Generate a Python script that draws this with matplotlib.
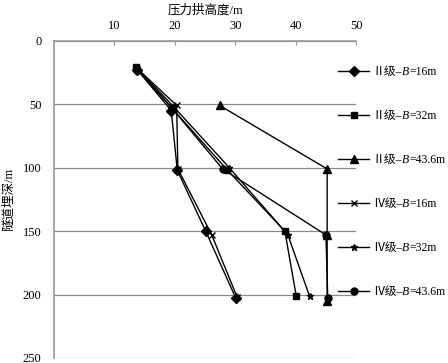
import matplotlib
matplotlib.use("Agg")
import matplotlib.pyplot as plt
from matplotlib.text import Annotation

plt.rcParams['font.family'] = ['Liberation Serif', 'Noto Sans CJK SC', 'DejaVu Sans']

grades = ["Ⅱ级–", "Ⅱ级–", "Ⅱ级–", "Ⅳ级–", "Ⅳ级–", "Ⅳ级–"]
widths = ["=16m", "=32m", "=43.6m", "=16m", "=32m", "=43.6m"]

ii16_x = [13.8, 19.4, 20.4, 25.1, 30.1]
ii16_y = [23, 55, 102, 150, 203]
ii32_x = [13.5, 19.5, 28.7, 38.2, 40.1]
ii32_y = [20.5, 53, 102, 150, 201.5]
ii436_x = [27.4, 45.2, 45.2, 45.2]
ii436_y = [51, 101, 153, 205]
iv16_x = [13.8, 20.3, 20.5, 26.1, 30.3]
iv16_y = [22, 51, 101, 153, 202]
iv32_x = [13.6, 19.8, 29.0, 38.7, 42.3]
iv32_y = [21, 52, 100, 153, 201.5]
iv436_x = [13.8, 19.5, 27.9, 45.0, 45.3]
iv436_y = [23, 53, 101, 153, 203]

x_ticks = [10, 20, 30, 40, 50]
y_ticks = [0, 50, 100, 150, 200, 250]

series = [(ii16_x, ii16_y, 'D', 5), (ii32_x, ii32_y, 's', 5), (ii436_x, ii436_y, '^', 6),
          (iv16_x, iv16_y, 'x', 4), (iv32_x, iv32_y, '*', 5), (iv436_x, iv436_y, 'o', 5)]

fig = plt.figure(figsize=(4.48, 3.63), dpi=100)
ax = fig.add_axes([0.1205, 0.0138, 0.6745, 0.874])

handles = []
for (xs, ys, m, ms) in series:
    h, = ax.plot(xs, ys, color='black', lw=1.0, marker=m, markersize=ms,
                 markeredgewidth=1.0)
    handles.append(h)

ax.set_xlim(0, 50)
ax.set_ylim(250, 0)
ax.xaxis.tick_top()
ax.xaxis.set_label_position('top')
ax.set_xticks(x_ticks)
ax.set_yticks(y_ticks)
ax.tick_params(axis='x', direction='in', length=3, color='#999999', labelsize=9, pad=6)
ax.tick_params(axis='y', length=0, labelsize=9, pad=9)
ax.grid(axis='y', color='#888888', lw=0.9)
ax.set_axisbelow(True)
for s in ['right', 'bottom']:
    ax.spines[s].set_visible(False)
for s in ['top', 'left']:
    ax.spines[s].set_color('#999999')
    ax.spines[s].set_linewidth(1.2)

ax.set_xlabel('压力拱高度/m', fontsize=9, labelpad=5)
ax.set_ylabel('隧道埋深/m', fontsize=9, labelpad=6)

leg = fig.legend(handles, grades, loc='upper left', bbox_to_anchor=(0.745, 0.83),
                 frameon=False, fontsize=8.5, labelspacing=2.7, handlelength=2.6,
                 handletextpad=0.3, borderaxespad=0)

for t, w in zip(leg.get_texts(), widths):
    b = Annotation('B', xy=(1, 0), xycoords=t, ha='left', va='bottom',
                   fontsize=8.5, fontstyle='italic', annotation_clip=False, zorder=10)
    fig.add_artist(b)
    r = Annotation(w, xy=(1, 0), xycoords=b, ha='left', va='bottom',
                   fontsize=8.5, annotation_clip=False, zorder=11)
    fig.add_artist(r)

fig.canvas.draw()
fig.savefig('out.png', dpi=100)
